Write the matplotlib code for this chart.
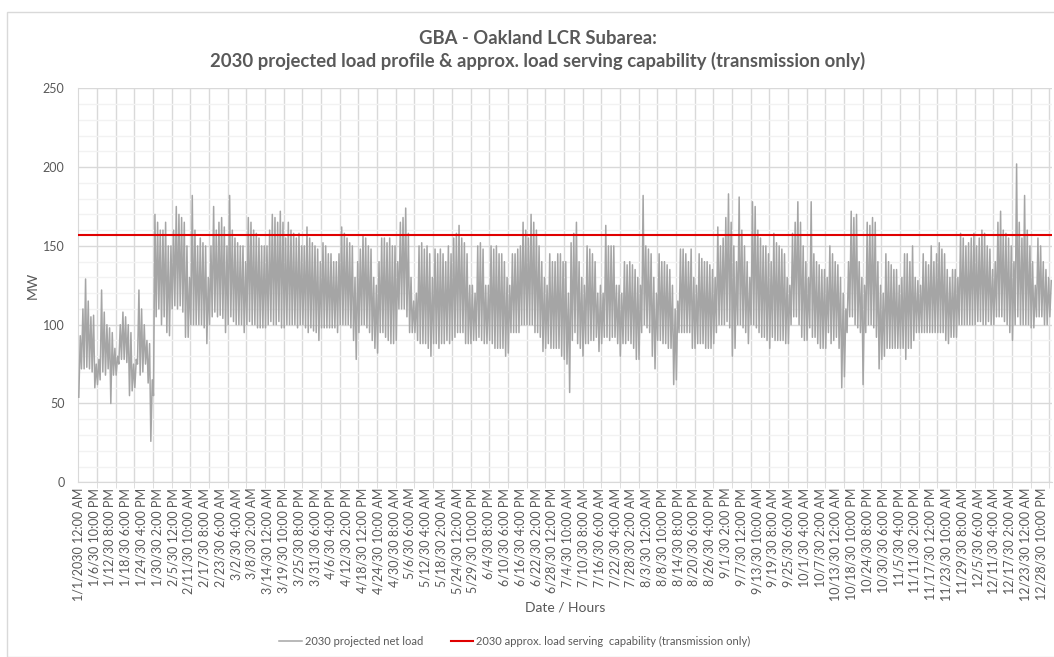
import matplotlib
matplotlib.use("Agg")
import matplotlib.pyplot as plt
from matplotlib.ticker import MultipleLocator, FixedLocator
from matplotlib.patches import Rectangle

plt.rcParams['font.family'] = ['Lato', 'DejaVu Sans']

# ---- data ----
# daily maximum and minimum net load (MW), one value per day
daily_max = [
    93, 110, 129, 115, 105, 106, 75, 78, 122, 108,
    100, 98, 95, 85, 80, 100, 108, 105, 100, 95,
    75, 78, 122, 110, 100, 90, 88, 65, 170, 165,
    160, 160, 165, 150, 150, 160, 175, 170, 168, 165,
    150, 130, 182, 160, 150, 155, 152, 150, 130, 150,
    175, 160, 165, 168, 162, 150, 182, 160, 155, 152,
    150, 150, 140, 168, 165, 160, 158, 155, 150, 150,
    150, 160, 170, 168, 165, 172, 165, 155, 165, 160,
    158, 155, 158, 150, 150, 162, 155, 152, 150, 148,
    140, 152, 150, 145, 145, 140, 140, 145, 162, 158,
    155, 152, 150, 130, 140, 148, 157, 155, 150, 148,
    130, 125, 140, 155, 155, 152, 155, 150, 150, 140,
    165, 168, 174, 158, 130, 115, 120, 150, 152, 148,
    150, 145, 130, 148, 145, 148, 145, 140, 150, 145,
    155, 158, 163, 155, 152, 145, 125, 125, 120, 150,
    152, 148, 125, 125, 150, 148, 150, 145, 145, 140,
    130, 125, 145, 145, 148, 150, 165, 160, 155, 170,
    165, 160, 150, 140, 130, 125, 145, 140, 140, 145,
    145, 140, 140, 120, 152, 158, 165, 140, 130, 125,
    150, 148, 145, 140, 120, 125, 120, 163, 150, 150,
    150, 125, 125, 120, 140, 138, 140, 138, 135, 130,
    125, 182, 150, 148, 145, 130, 120, 145, 140, 140,
    138, 135, 125, 110, 115, 148, 148, 145, 140, 148,
    130, 125, 145, 142, 140, 140, 138, 135, 130, 162,
    150, 155, 168, 183, 165, 150, 140, 181, 160, 150,
    140, 130, 178, 175, 160, 155, 150, 150, 145, 140,
    158, 152, 150, 148, 145, 130, 125, 158, 165, 178,
    165, 150, 140, 130, 178, 145, 140, 138, 135, 135,
    130, 150, 145, 140, 138, 130, 120, 110, 140, 172,
    168, 170, 140, 130, 125, 165, 163, 168, 165, 140,
    125, 120, 145, 140, 138, 135, 135, 125, 130, 145,
    145, 140, 150, 130, 128, 125, 145, 140, 138, 150,
    140, 145, 152, 148, 145, 135, 130, 135, 135, 130,
    158, 155, 150, 152, 155, 158, 150, 155, 160, 158,
    150, 148, 135, 140, 165, 172, 160, 158, 155, 150,
    140, 202, 165, 155, 182, 160, 150, 140, 125, 155,
    150, 140, 135, 130, 128,
]
daily_min = [
    54, 72, 72, 73, 72, 70, 60, 62, 65, 70,
    68, 72, 50, 68, 68, 75, 78, 78, 76, 55,
    58, 60, 75, 68, 70, 75, 63, 26, 55, 105,
    110, 100, 105, 95, 93, 110, 112, 110, 112, 108,
    92, 92, 100, 100, 100, 100, 100, 98, 88, 100,
    105, 108, 105, 106, 104, 95, 100, 105, 102, 100,
    100, 100, 95, 100, 102, 100, 100, 98, 98, 98,
    98, 100, 102, 100, 100, 102, 98, 98, 100, 100,
    100, 100, 98, 100, 100, 98, 95, 98, 96, 95,
    90, 98, 98, 98, 98, 98, 98, 95, 100, 100,
    100, 100, 98, 90, 78, 95, 100, 100, 98, 95,
    90, 85, 82, 95, 95, 92, 90, 88, 88, 90,
    110, 110, 110, 105, 95, 95, 95, 90, 88, 88,
    88, 85, 80, 88, 88, 85, 88, 88, 90, 88,
    90, 92, 95, 95, 95, 88, 88, 88, 90, 90,
    92, 90, 88, 88, 90, 88, 85, 85, 85, 85,
    80, 82, 95, 95, 95, 95, 100, 100, 100, 100,
    100, 95, 95, 92, 83, 85, 88, 85, 85, 85,
    85, 80, 78, 75, 57, 90, 95, 88, 85, 80,
    88, 88, 90, 90, 92, 83, 88, 92, 92, 90,
    92, 92, 88, 80, 88, 88, 90, 88, 85, 78,
    78, 95, 100, 98, 95, 80, 72, 90, 90, 88,
    88, 85, 85, 62, 65, 95, 95, 95, 95, 95,
    85, 85, 88, 88, 88, 85, 85, 85, 88, 95,
    100, 100, 100, 102, 98, 80, 85, 100, 100, 98,
    95, 88, 100, 100, 98, 95, 92, 92, 90, 85,
    92, 90, 90, 90, 90, 88, 88, 100, 105, 105,
    100, 92, 90, 90, 98, 92, 92, 88, 85, 85,
    85, 95, 88, 90, 92, 85, 60, 67, 95, 105,
    105, 100, 98, 95, 62, 95, 100, 100, 98, 92,
    72, 78, 80, 85, 85, 85, 85, 85, 85, 85,
    78, 85, 85, 90, 95, 95, 95, 95, 95, 95,
    95, 95, 95, 95, 95, 90, 88, 92, 92, 92,
    100, 100, 100, 100, 100, 100, 100, 102, 102, 100,
    100, 102, 100, 100, 105, 105, 105, 102, 100, 95,
    90, 100, 105, 100, 100, 100, 100, 98, 98, 105,
    105, 105, 100, 100, 105,
]
capability_mw = 157
n_hours = 8760
label_step_hours = 142
grid_step_hours = 168

tick_labels = [
    "1/1/2030 12:00 AM", "1/6/30 10:00 PM", "1/12/30 8:00 PM", "1/18/30 6:00 PM",
    "1/24/30 4:00 PM", "1/30/30 2:00 PM", "2/5/30 12:00 PM", "2/11/30 10:00 AM",
    "2/17/30 8:00 AM", "2/23/30 6:00 AM", "3/2/30 4:00 AM", "3/8/30 2:00 AM",
    "3/14/30 12:00 AM", "3/19/30 10:00 PM", "3/25/30 8:00 PM", "3/31/30 6:00 PM",
    "4/6/30 4:00 PM", "4/12/30 2:00 PM", "4/18/30 12:00 PM", "4/24/30 10:00 AM",
    "4/30/30 8:00 AM", "5/6/30 6:00 AM", "5/12/30 4:00 AM", "5/18/30 2:00 AM",
    "5/24/30 12:00 AM", "5/29/30 10:00 PM", "6/4/30 8:00 PM", "6/10/30 6:00 PM",
    "6/16/30 4:00 PM", "6/22/30 2:00 PM", "6/28/30 12:00 PM", "7/4/30 10:00 AM",
    "7/10/30 8:00 AM", "7/16/30 6:00 AM", "7/22/30 4:00 AM", "7/28/30 2:00 AM",
    "8/3/30 12:00 AM", "8/8/30 10:00 PM", "8/14/30 8:00 PM", "8/20/30 6:00 PM",
    "8/26/30 4:00 PM", "9/1/30 2:00 PM", "9/7/30 12:00 PM", "9/13/30 10:00 AM",
    "9/19/30 8:00 AM", "9/25/30 6:00 AM", "10/1/30 4:00 AM", "10/7/30 2:00 AM",
    "10/13/30 12:00 AM", "10/18/30 10:00 PM", "10/24/30 8:00 PM", "10/30/30 6:00 PM",
    "11/5/30 4:00 PM", "11/11/30 2:00 PM", "11/17/30 12:00 PM", "11/23/30 10:00 AM",
    "11/29/30 8:00 AM", "12/5/30 6:00 AM", "12/11/30 4:00 AM", "12/17/30 2:00 AM",
    "12/23/30 12:00 AM", "12/28/30 10:00 PM",
]
tick_hours = [i * label_step_hours for i in range(len(tick_labels))]

# hourly positions of daily troughs (early morning) and peaks (evening)
hours = []
load = []
for d, (lo, hi) in enumerate(zip(daily_min, daily_max)):
    hours += [d * 24 + 4, d * 24 + 17]
    load += [lo, hi]

# ---- figure ----
W, H = 1054, 657
fig = plt.figure(figsize=(W / 100, H / 100), dpi=100)
fig.patches.append(Rectangle((7 / W, 0), 2, 1 - 12 / H, transform=fig.transFigure,
                             fill=False, edgecolor='#d9d9d9', linewidth=1))
ax = fig.add_axes([78.3 / W, 1 - 482.3 / H, (1052 - 78.3) / W, (482.3 - 88.3) / H])

text_col = '#595959'
ax.plot(hours, load, color='#a5a5a5', linewidth=1.1, label='2030 projected net load', zorder=3)
ax.axhline(capability_mw, color='#e00000', linewidth=1.5, zorder=4,
           label='2030 approx. load serving  capability (transmission only)')

ax.set_xlim(-0.5, n_hours - 0.5)
ax.set_ylim(0, 250)
ax.yaxis.set_major_locator(MultipleLocator(50))
ax.yaxis.set_minor_locator(MultipleLocator(10))
ax.set_xticks(tick_hours)
ax.set_xticklabels(tick_labels, rotation=90, fontsize=9, color=text_col)
ax.xaxis.set_minor_locator(FixedLocator(list(range(0, n_hours, grid_step_hours))))
ax.tick_params(axis='x', which='major', length=0, pad=4)
ax.tick_params(axis='x', which='minor', length=4, color='#d9d9d9')
ax.tick_params(axis='y', which='both', length=0, labelsize=9, labelcolor=text_col, pad=10)

ax.grid(True, axis='y', which='major', color='#d9d9d9', linewidth=1)
ax.grid(True, axis='y', which='minor', color='#f2f2f2', linewidth=1)
ax.grid(True, axis='x', which='minor', color='#d9d9d9', linewidth=1)
ax.set_axisbelow(True)
for s in ['top', 'right']:
    ax.spines[s].set_visible(False)
for s in ['left', 'bottom']:
    ax.spines[s].set_color('#d9d9d9')

ax.set_ylabel('MW', fontsize=10, color=text_col, labelpad=3)
ax.set_xlabel('Date / Hours', fontsize=10, color=text_col, labelpad=0)

fig.text(538 / W, 1 - 38 / H, 'GBA - Oakland LCR Subarea:', ha='center', va='center',
         fontsize=13.3, fontweight='bold', color=text_col)
fig.text(538 / W, 1 - 61 / H,
         '2030 projected load profile & approx. load serving capability (transmission only)',
         ha='center', va='center', fontsize=13.3, fontweight='bold', color=text_col)

leg = fig.legend(loc='center', bbox_to_anchor=(515 / W, 1 - 641 / H), ncol=2, frameon=False,
                 fontsize=8, handlelength=2.0, columnspacing=2.5, handletextpad=0.3)
for t in leg.get_texts():
    t.set_color(text_col)

fig.savefig('out.png', dpi=100)
